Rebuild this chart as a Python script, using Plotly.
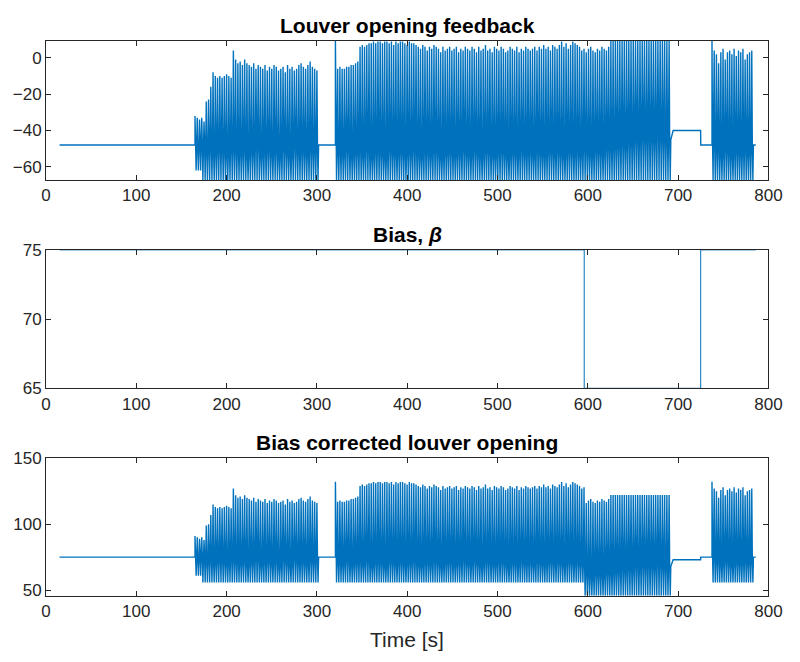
import numpy as np
import plotly.graph_objects as go

# ---------------- data ----------------
CEIL = 9.2      # feedback saturation (top of plot)
FLOOR = -67.2   # feedback minimum (bottom of plot)
NEUTRAL = -48   # feedback resting value

# quiet (non-oscillating) stretches of the louver feedback
quiet1_t = [15, 165]
quiet1_v = [-48, -48]
quiet2_t = [302.5, 320.5]
quiet2_v = [-48, -48]
quiet3_t = [694.5, 724.9, 725.1, 737.5]
quiet3_v = [-40, -40, -48, -48]
quiet4_t = [784.0, 786]
quiet4_v = [-48, -48]

# oscillating stretch 1: 165 s .. 302.5 s, one value per cycle
seg1_span = [165, 302.5]
seg1_peaks = [-32, -33, -34, -33, -35, -24, -23, -16, -8, -10,
              -11, -10, -11, -10, -9, -10, -11, 4, -1, -3,
              -2, -4, -1, -3, -4, -5, -3, -6, -4, -5,
              -6, -4, -7, -5, -6, -4, -5, -7, -6, -5,
              -8, -4, -6, -5, -7, -6, -4, -3, -5, -6,
              -4, -2, -5, -6, -7]
seg1_troughs = [-62, -62, -62] + [FLOOR] * 52
seg1_mids = [-48, -50, -46, -49, -47, -51, -45, -48, -52, -46,
             -49, -44, -50, -47, -53, -46, -49, -43, -51, -47,
             -52, -45, -48, -54, -44, -50, -47, -41, -49, -53,
             -46, -50, -44, -48, -52, -45, -49, -55, -47, -43,
             -50, -48, -54, -46, -42, -51, -47, -49, -45, -52,
             -48, -44, -50, -46, -48]

# oscillating stretch 2: 320.5 s .. 692.5 s
seg2_span = [320.5, 692.5]
seg2_peaks = [CEIL, -6, -5, -6, -6, -5, -5, -4, -4, -3,
              -2, 6, 7, 6, 7, 8, 8, 9, 8, 9,
              9, 8, 9, 9, 8, 9, 7, 9, 8, 9,
              9, 8, 7, 9, 8, 8, 7, 6, 5, 7,
              6, 4, 6, 5, 7, 6, 5, 3, 6, 4,
              5, 6, 4, 5, 6, 3, 5, 4, 6, 5,
              4, 6, 5, 3, 6, 4, 5, 7, 4, 5,
              3, 6, 5, 4, 6, 5, 3, 4, 6, 5,
              4, 6, 3, 5, 4, 6, 5, 4, 5, 6,
              4, 6, 5, 7, 5, 6, 4, 7, 6, 5,
              7, 9, 6, 8, 5, 7, 9, 8, 7, 6,
              4, 5, 3, 5, 6, 4, 3, 5, 4, 6,
              5, 4, 6, CEIL, CEIL, CEIL, CEIL, CEIL, CEIL, CEIL,
              CEIL, CEIL, CEIL, CEIL, CEIL, CEIL, CEIL, CEIL, CEIL, CEIL,
              CEIL, CEIL, CEIL, CEIL, CEIL, CEIL, CEIL, CEIL, CEIL, CEIL]
seg2_troughs = [FLOOR] * 150
seg2_mids = [-48, -50, -46, -52, -47, -44, -49, -53, -46, -50,
             -45, -48, -52, -47, -43, -50, -54, -46, -49, -44,
             -51, -47, -55, -48, -43, -50, -46, -52, -45, -49,
             -47, -53, -44, -50, -48, -42, -51, -47, -54, -46,
             -49, -45, -52, -48, -43, -50, -47, -55, -46, -51,
             -44, -49, -47, -53, -45, -50, -48, -42, -51, -46,
             -52, -47, -44, -50, -48, -54, -45, -49, -43, -51,
             -47, -53, -46, -49, -44, -50, -48, -55, -45, -50,
             -46, -52, -48, -43, -51, -47, -49, -45, -53, -48,
             -44, -50, -47, -52, -46, -49, -43, -51, -48, -45,
             -50, -47, -53, -45, -49, -44, -51, -48, -46, -52,
             -47, -43, -50, -46, -52, -48, -44, -49, -45, -51,
             -46, -42, -48, -44, -47, -41, -45, -43, -40, -46,
             -42, -38, -44, -40, -36, -43, -39, -35, -41, -37,
             -40, -36, -42, -38, -34, -41, -37, -43, -39, -45]

# oscillating stretch 3: 737.5 s .. 784 s
seg3_span = [737.5, 784.0]
seg3_peaks = [CEIL, 4, 2, -3, 3, 5, -1, 3, 4, 2,
              5, 1, 4, 3, 5, -1, 2, 3, 4]
seg3_troughs = [FLOOR] * 19
seg3_mids = [-46, -50, -44, -49, -52, -47, -43, -50, -48, -53,
             -45, -49, -47, -51, -44, -48, -50, -46, -48]

# bias beta: levels and switching instants
bias_span = [15, 786]
bias_change_t = [596, 725]
bias_levels = [75, 65, 75]

# axes / ticks
x_ticks = [0, 100, 200, 300, 400, 500, 600, 700, 800]
y1_ticks = [-60, -40, -20, 0]
y2_ticks = [65, 70, 75]
y3_ticks = [50, 100, 150]
titles = ["<b>Louver opening feedback</b>", "<b>Bias, <i>β</i></b>",
          "<b>Bias corrected louver opening</b>"]
x_label = "Time [s]"


# ---------------- assemble series ----------------
def cycles(span, peaks, troughs, mids):
    n = len(peaks)
    per = (span[1] - span[0]) / n
    t, v = [], []
    for i in range(n):
        t0 = span[0] + i * per
        t += [t0, t0 + 0.25 * per, t0 + 0.5 * per, t0 + 0.75 * per]
        v += [peaks[i], mids[i], troughs[i], mids[i]]
    return t, v


pieces = [
    (quiet1_t, quiet1_v),
    cycles(seg1_span, seg1_peaks, seg1_troughs, seg1_mids),
    (quiet2_t, quiet2_v),
    cycles(seg2_span, seg2_peaks, seg2_troughs, seg2_mids),
    (quiet3_t, quiet3_v),
    cycles(seg3_span, seg3_peaks, seg3_troughs, seg3_mids),
    (quiet4_t, quiet4_v),
]
fb_t = np.concatenate([np.asarray(p[0], float) for p in pieces])
fb_v = np.concatenate([np.asarray(p[1], float) for p in pieces])

bias_at = np.asarray(bias_levels)[np.searchsorted(bias_change_t, fb_t, side="right")]
corr_v = fb_v - NEUTRAL + bias_at

bias_t = [bias_span[0]]
bias_v = [bias_levels[0]]
for k, tc in enumerate(bias_change_t):
    bias_t += [tc, tc]
    bias_v += [bias_levels[k], bias_levels[k + 1]]
bias_t.append(bias_span[1])
bias_v.append(bias_levels[-1])

# ---------------- figure ----------------
W, H = 800, 662
COL = "#0072BD"
AX = "#262626"
FONT = "Liberation Sans"

fig = go.Figure()
fig.add_trace(go.Scatter(x=fb_t, y=fb_v, mode="lines", line=dict(color=COL, width=1.4),
                         xaxis="x", yaxis="y", showlegend=False))
fig.add_trace(go.Scatter(x=bias_t, y=bias_v, mode="lines", line=dict(color=COL, width=1),
                         xaxis="x2", yaxis="y2", showlegend=False))
fig.add_trace(go.Scatter(x=fb_t, y=corr_v, mode="lines", line=dict(color=COL, width=1.4),
                         xaxis="x3", yaxis="y3", showlegend=False))

xl, xr = 42 / W, 782 / W
doms = [(33, 176), (248, 390.5), (462.5, 604)]
ydoms = [[1 - b / H, 1 - t / H] for t, b in doms]
yranges = [[FLOOR, CEIL], [65, 75], [FLOOR - NEUTRAL + 65, 150]]
yticks = [y1_ticks, y2_ticks, y3_ticks]

common = dict(showline=True, linecolor=AX, linewidth=1, mirror="ticks",
              ticks="inside", ticklen=5, tickcolor=AX, showgrid=False,
              zeroline=False, tickfont=dict(family=FONT, size=17, color=AX))

layout = dict(width=W, height=H, margin=dict(l=0, r=0, t=0, b=0),
              paper_bgcolor="white", plot_bgcolor="white",
              font=dict(family=FONT, color=AX), annotations=[])
for i in range(3):
    sx = "" if i == 0 else str(i + 1)
    layout["xaxis" + sx] = dict(common, domain=[xl, xr], range=[0, 800],
                                tickvals=x_ticks, anchor="y" + sx)
    layout["yaxis" + sx] = dict(common, domain=ydoms[i], range=yranges[i],
                                tickvals=yticks[i], anchor="x" + sx)
    layout["annotations"].append(dict(
        text=titles[i], x=(xl + xr) / 2, y=1 - (doms[i][0] - 16) / H,
        xref="paper", yref="paper",
        xanchor="center", yanchor="middle", showarrow=False,
        font=dict(family=FONT, size=21, color="black")))

layout["annotations"].append(dict(
    text=x_label, x=(xl + xr) / 2, y=1 - 649 / H, xref="paper", yref="paper",
    xanchor="center", yanchor="middle", showarrow=False,
    font=dict(family=FONT, size=21, color=AX)))

fig.update_layout(**layout)
fig.write_html("out.html")
